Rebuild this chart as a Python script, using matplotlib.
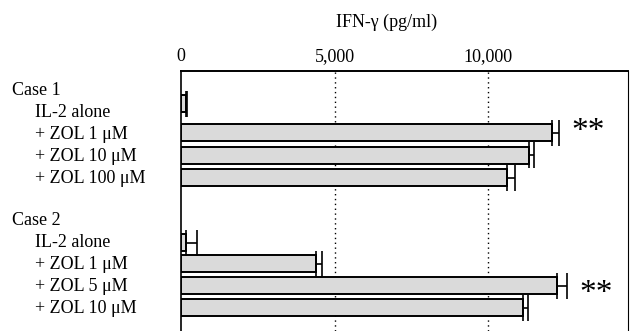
import numpy as np
import matplotlib
matplotlib.use('Agg')
import matplotlib.pyplot as plt
import matplotlib.transforms as mtransforms

plt.rcParams['font.family'] = ['Liberation Serif', 'DejaVu Serif']

# IFN-gamma (pg/ml)
case_names = ['Case 1', 'Case 2']
case1_labels = ['IL-2 alone', '+ ZOL 1 \u03bcM', '+ ZOL 10 \u03bcM', '+ ZOL 100 \u03bcM']
case1_means = [160, 12075, 11340, 10620]
case1_err = [30, 240, 160, 260]
case2_labels = ['IL-2 alone', '+ ZOL 1 \u03bcM', '+ ZOL 5 \u03bcM', '+ ZOL 10 \u03bcM']
case2_means = [150, 4390, 12260, 11150]
case2_err = [380, 195, 305, 165]
signif1 = [False, True, False, False]
signif2 = [False, False, True, False]

# layout (row positions in pixel rows of the 331 px high image)
bar_y1 = [104, 133, 155.5, 178]
bar_y2 = [243, 264, 286, 308]
lab_y1 = [91, 113, 135, 157, 178.5]
lab_y2 = [221, 243, 265, 287, 309]
star_dy = [-1, 8]

fig = plt.figure(figsize=(6.3, 3.31), dpi=100)
ax = fig.add_axes([181 / 630, 0, 447 / 630, 260 / 331])

for ys, means, errs in [(bar_y1, case1_means, case1_err), (bar_y2, case2_means, case2_err)]:
    ax.barh(ys, means, height=17, color='#dadada', edgecolor='black', linewidth=1.4, zorder=3)
    ax.errorbar(means, ys, xerr=[np.zeros(len(errs)), errs], fmt='none', ecolor='black',
                elinewidth=1.2, capsize=9.5, capthick=1.2, zorder=4)

for ys, means, errs, sig, dy in [(bar_y1, case1_means, case1_err, signif1, star_dy[0]),
                                 (bar_y2, case2_means, case2_err, signif2, star_dy[1])]:
    for y, m, e, s in zip(ys, means, errs, sig):
        if s:
            ax.text(m + e + 400, y + dy, '**', fontsize=24, ha='left', va='center', zorder=5)

ax.set_xlim(0, 14560)
ax.set_ylim(331, 71)
ax.xaxis.tick_top()
ax.set_xticks([0, 5000, 10000])
ax.set_xticklabels(['0', '5,000', '10,000'], fontsize=13)
ax.tick_params(axis='x', length=0, pad=4)
ax.set_yticks([])
for x in [5000, 10000]:
    ax.axvline(x, color='black', linestyle=(0, (1, 2.5)), linewidth=1, zorder=1)

ax.spines['bottom'].set_visible(False)
ax.spines['top'].set_linewidth(1.4)
ax.spines['left'].set_linewidth(1.2)
ax.spines['right'].set_linewidth(0.8)

trans = mtransforms.blended_transform_factory(fig.transFigure, ax.transData)
for name, labs, lys in [(case_names[0], case1_labels, lab_y1), (case_names[1], case2_labels, lab_y2)]:
    ax.text(12 / 630, lys[0], name, transform=trans, fontsize=13, va='center', ha='left')
    for lab, y in zip(labs, lys[1:]):
        ax.text(35 / 630, y, lab, transform=trans, fontsize=13, va='center', ha='left')

fig.text(387 / 630, 1 - 22 / 331, 'IFN-\u03b3 (pg/ml)', fontsize=13, ha='center', va='center')

fig.savefig('out.png', dpi=100)
